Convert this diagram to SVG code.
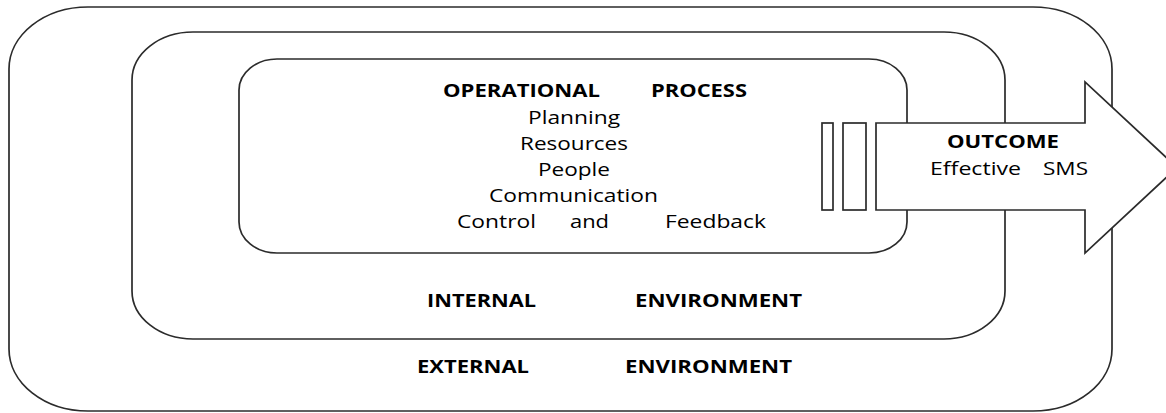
<svg xmlns="http://www.w3.org/2000/svg" width="1166" height="413" viewBox="0 0 1166 413">
  <style>
    .frame { fill: none; stroke: #2b2b2b; stroke-width: 1.7; }
    .shape { fill: #fff; stroke: #2b2b2b; stroke-width: 1.7; }
    .h { font-family: "Open Sans", "Liberation Sans", Arial, sans-serif; font-weight: bold; font-size: 17px; fill: #000; }
    .t { font-family: "Open Sans", "Liberation Sans", Arial, sans-serif; font-size: 18px; fill: #000; }
  </style>
  <rect width="1166" height="413" fill="#fff"/>

  <!-- nested environment frames -->
  <g id="external-environment">
    <rect class="frame" x="9" y="7" width="1103" height="404" rx="79" ry="62"/>
    <text class="h" x="417" y="373" textLength="112" lengthAdjust="spacingAndGlyphs">EXTERNAL</text>
    <text class="h" x="625" y="373" textLength="167" lengthAdjust="spacingAndGlyphs">ENVIRONMENT</text>
  </g>

  <g id="internal-environment">
    <rect class="frame" x="132" y="32" width="873" height="307" rx="61" ry="48"/>
    <text class="h" x="427" y="307" textLength="109" lengthAdjust="spacingAndGlyphs">INTERNAL</text>
    <text class="h" x="635" y="307" textLength="167" lengthAdjust="spacingAndGlyphs">ENVIRONMENT</text>
  </g>

  <g id="operational-process">
    <rect class="frame" x="239" y="59" width="668" height="194" rx="38" ry="31"/>
    <text class="h" x="443" y="97" textLength="157" lengthAdjust="spacingAndGlyphs">OPERATIONAL</text>
    <text class="h" x="651" y="97" textLength="96" lengthAdjust="spacingAndGlyphs">PROCESS</text>
    <text class="t" x="528" y="124" textLength="92" lengthAdjust="spacingAndGlyphs">Planning</text>
    <text class="t" x="520" y="150" textLength="108" lengthAdjust="spacingAndGlyphs">Resources</text>
    <text class="t" x="538" y="176" textLength="72" lengthAdjust="spacingAndGlyphs">People</text>
    <text class="t" x="489" y="202" textLength="169" lengthAdjust="spacingAndGlyphs">Communication</text>
    <text class="t" x="457" y="228" textLength="79" lengthAdjust="spacingAndGlyphs">Control</text>
    <text class="t" x="570" y="228" textLength="39" lengthAdjust="spacingAndGlyphs">and</text>
    <text class="t" x="665" y="228" textLength="101" lengthAdjust="spacingAndGlyphs">Feedback</text>
  </g>

  <!-- transition bars and outcome arrow -->
  <g id="connectors">
    <rect class="shape" x="822" y="123" width="11" height="87"/>
    <rect class="shape" x="843" y="123" width="23" height="87"/>
  </g>

  <g id="outcome">
    <polygon class="shape" points="876,123 1085,123 1085,82 1177,167.5 1085,253 1085,210 876,210"/>
    <text class="h" x="947" y="148" textLength="112" lengthAdjust="spacingAndGlyphs">OUTCOME</text>
    <text class="t" x="930" y="175" textLength="91" lengthAdjust="spacingAndGlyphs">Effective</text>
    <text class="t" x="1043" y="175" textLength="45" lengthAdjust="spacingAndGlyphs">SMS</text>
  </g>
</svg>
